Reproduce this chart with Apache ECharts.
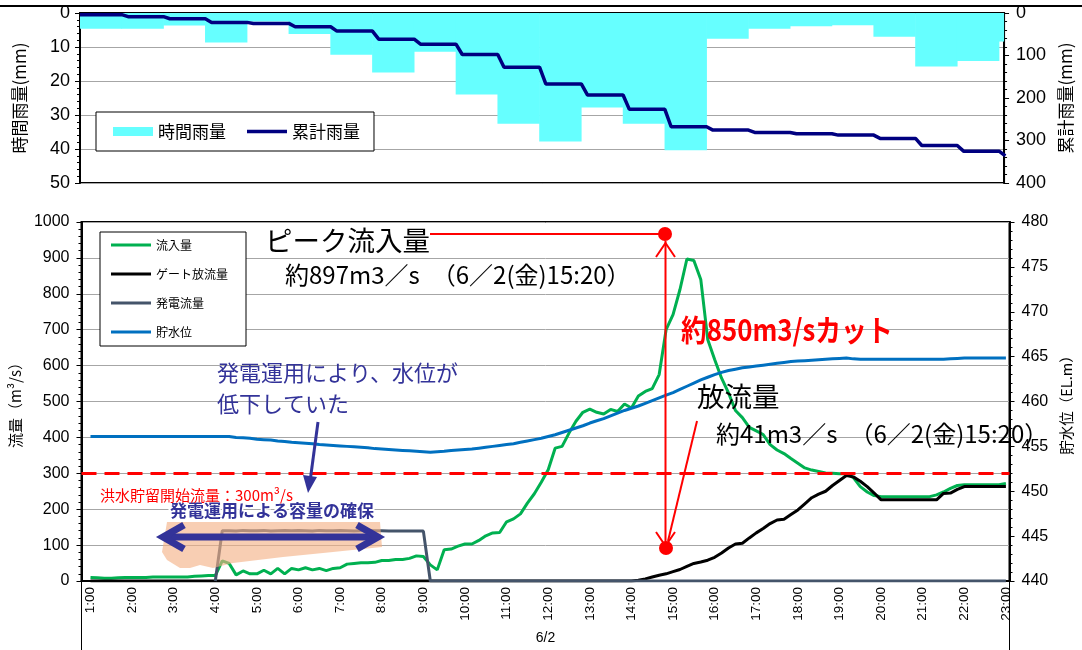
<!DOCTYPE html>
<html>
<head>
<meta charset="utf-8">
<script src="https://cdn.jsdelivr.net/npm/echarts@6/dist/echarts.min.js"></script>
<style>
  html, body { margin: 0; padding: 0; background: #fff; }
  #chart { width: 1082px; height: 650px; }
</style>
</head>
<body>
<div id="chart"></div>
<script>
// ---- Rainfall (upper panel): one value per hourly slot ----
const rainHourly = [4.6, 4.6, 3.7, 8.7, 2.5, 6.2, 12.3, 17.5, 11.4, 24.0, 32.6, 37.8,
                    27.8, 32.6, 40.4, 7.6, 4.6, 3.9, 3.6, 7.0, 15.7, 14.1, 8.4];
const rainCumulative = [4.0, 8.7, 13.5, 22.1, 24.5, 32.3, 42.6, 61.5, 73.3, 97.6, 127.6, 167,
                        193, 226.7, 267.7, 275.5, 281, 284, 287.3, 295, 311.7, 325, 336];

// ---- Reservoir operation (lower panel): 10-minute readings, 1:00 .. 23:00 on 6/2 ----
const inflow = [
  10, 9, 8, 8, 9, 10,            // 1:00
  10, 10, 10, 11, 11, 11,        // 2:00
  11, 11, 11, 13, 14, 15,        // 3:00
  15, 56, 49, 17, 28, 20,        // 4:00
  20, 30, 20, 35, 20, 35,        // 5:00
  31, 37, 31, 35, 29, 35,        // 6:00
  37, 47, 49, 51, 51, 52,        // 7:00
  57, 57, 60, 60, 63, 70,        // 8:00
  68, 45, 31, 87, 89, 97,        // 9:00
  103, 103, 113, 126, 134, 135,  // 10:00
  165, 173, 187, 217, 243, 275,  // 11:00
  310, 370, 375, 412, 445, 470,  // 12:00
  479, 470, 465, 478, 472, 493,  // 13:00
  482, 515, 528, 536, 575, 700,  // 14:00
  742, 812, 897, 893, 840, 673,  // 15:00
  617, 565, 524, 475, 455, 428,  // 16:00
  418, 408, 380, 365, 355, 341,  // 17:00
  328, 315, 309, 305, 301, 300,  // 18:00
  299, 299, 288, 263, 248, 238,  // 19:00
  235, 235, 235, 235, 235, 235,  // 20:00
  235, 235, 240, 248, 258, 266,  // 21:00
  268, 268, 268, 268, 268, 268,  // 22:00
  272                            // 23:00
];
const gateOutflow = [
  0, 0, 0, 0, 0, 0,              // 1:00
  0, 0, 0, 0, 0, 0,              // 2:00
  0, 0, 0, 0, 0, 0,              // 3:00
  0, 0, 0, 0, 0, 0,              // 4:00
  0, 0, 0, 0, 0, 0,              // 5:00
  0, 0, 0, 0, 0, 0,              // 6:00
  0, 0, 0, 0, 0, 0,              // 7:00
  0, 0, 0, 0, 0, 0,              // 8:00
  0, 0, 0, 0, 0, 0,              // 9:00
  0, 0, 0, 0, 0, 0,              // 10:00
  0, 0, 0, 0, 0, 0,              // 11:00
  0, 0, 0, 0, 0, 0,              // 12:00
  0, 0, 0, 0, 0, 0,              // 13:00
  0, 2, 6, 11, 16, 20,           // 14:00
  26, 32, 41, 49, 53, 58,        // 15:00
  66, 78, 92, 103, 105, 120,     // 16:00
  134, 146, 160, 170, 172, 185,  // 17:00
  198, 215, 232, 242, 250, 266,  // 18:00
  280, 294, 290, 278, 263, 245,  // 19:00
  226, 226, 226, 226, 226, 226,  // 20:00
  226, 226, 226, 244, 245, 255,  // 21:00
  263, 263, 263, 263, 263, 263,  // 22:00
  263                            // 23:00
];
const powerFlow = [
  null, null, null, null, null, null,  // 1:00
  null, null, null, null, null, null,  // 2:00
  null, null, null, null, null, null,  // 3:00
  0, 140, 140, 139, 141, 140,          // 4:00
  140, 141, 139, 140, 141, 140,        // 5:00
  141, 140, 139, 141, 140, 140,        // 6:00
  141, 140, 139, 140, 141, 140,        // 7:00
  140, 139, 139, 139, 139, 139,        // 8:00
  139, 0, 0, 0, 0, 0,                  // 9:00
  0, 0, 0, 0, 0, 0,                    // 10:00
  0, 0, 0, 0, 0, 0,                    // 11:00
  0, 0, 0, 0, 0, 0,                    // 12:00
  0, 0, 0, 0, 0, 0,                    // 13:00
  0, 0, 0, 0, 0, 0,                    // 14:00
  0, 0, 0, 0, 0, 0,                    // 15:00
  0, 0, 0, 0, 0, 0,                    // 16:00
  0, 0, 0, 0, 0, 0,                    // 17:00
  0, 0, 0, 0, 0, 0,                    // 18:00
  0, 0, 0, 0, 0, 0,                    // 19:00
  0, 0, 0, 0, 0, 0,                    // 20:00
  0, 0, 0, 0, 0, 0,                    // 21:00
  0, 0, 0, 0, 0, 0,                    // 22:00
  0                                    // 23:00
];
const waterLevel = [
  456.1, 456.1, 456.1, 456.1, 456.1, 456.1,        // 1:00
  456.1, 456.1, 456.1, 456.1, 456.1, 456.1,        // 2:00
  456.1, 456.1, 456.1, 456.1, 456.1, 456.1,        // 3:00
  456.1, 456.1, 456.1, 456.0, 455.95, 455.9,       // 4:00
  455.8, 455.75, 455.7, 455.6, 455.55, 455.45,     // 5:00
  455.4, 455.35, 455.3, 455.2, 455.15, 455.1,      // 6:00
  455.05, 455.0, 454.95, 454.9, 454.85, 454.75,    // 7:00
  454.7, 454.65, 454.6, 454.55, 454.5, 454.45,     // 8:00
  454.4, 454.35, 454.4, 454.45, 454.55, 454.6,     // 9:00
  454.65, 454.7, 454.8, 454.9, 455.0, 455.1,       // 10:00
  455.2, 455.3, 455.45, 455.6, 455.75, 455.9,      // 11:00
  456.1, 456.3, 456.55, 456.8, 457.05, 457.3,      // 12:00
  457.6, 457.85, 458.1, 458.4, 458.7, 459.0,       // 13:00
  459.25, 459.5, 459.8, 460.1, 460.4, 460.7,       // 14:00
  461.0, 461.35, 461.7, 462.05, 462.4, 462.7,      // 15:00
  463.0, 463.25, 463.45, 463.6, 463.75, 463.85,    // 16:00
  463.95, 464.05, 464.15, 464.25, 464.35, 464.45,  // 17:00
  464.5, 464.55, 464.6, 464.65, 464.7, 464.75,     // 18:00
  464.8, 464.85, 464.75, 464.7, 464.7, 464.7,      // 19:00
  464.7, 464.7, 464.7, 464.7, 464.7, 464.7,        // 20:00
  464.7, 464.7, 464.7, 464.7, 464.75, 464.8,       // 21:00
  464.85, 464.85, 464.85, 464.85, 464.85, 464.85,  // 22:00
  464.85                                           // 23:00
];

const hourTicks = [1, 2, 3, 4, 5, 6, 7, 8, 9, 10, 11, 12, 13, 14, 15, 16, 17, 18, 19, 20, 21, 22, 23];
const dateGroups = ['6/2'];
const floodStartFlow = 300;

// ---- styling ----
const FONT_NUM = "'Liberation Sans', 'Noto Sans CJK JP', sans-serif";
const FONT_JP = "'Noto Sans CJK JP', sans-serif";
const NAVY = '#333399';
const RED = '#FF0000';
const CYAN = '#66FFFF';

// legend line icons: a thick stroke centred in the item box (thin corner marks keep the box size)
function lineIcon(w, h, t) {
  const a = (h - t) / 2, b = (h + t) / 2;
  return 'path://M0,0L' + w + ',0L' + w + ',0.01L0,0.01Z' +
         'M0,' + a + 'L' + w + ',' + a + 'L' + w + ',' + b + 'L0,' + b + 'Z' +
         'M0,' + (h - 0.01) + 'L' + w + ',' + (h - 0.01) + 'L' + w + ',' + h + 'L0,' + h + 'Z';
}

// time (hours) of the i-th 10-minute reading
const hourOf = i => 1 + i / 6;
const toPairs = arr => arr.map((v, i) => [hourOf(i), v]);

// cumulative rainfall: flat within each slot, rising over the first 10 minutes of the slot
const RAMP = 0.15;
const cumLine = [[0, rainCumulative[0]]];
for (let k = 1; k < rainCumulative.length; k++) {
  cumLine.push([k, rainCumulative[k - 1]], [k + RAMP, rainCumulative[k]]);
}

const axisBlack = { show: true, lineStyle: { color: '#000', width: 2 } };
const tickBlack = { show: true, length: 5, lineStyle: { color: '#000', width: 1 } };
const minorBlack = { show: true, splitNumber: 5, length: 3, lineStyle: { color: '#000', width: 1 } };
const gridGrey = { show: true, lineStyle: { color: '#A6A6A6', width: 1 } };
const plainNum = v => String(v);

const option = {
  animation: false,
  backgroundColor: '#fff',
  grid: [
    { left: 80, right: 72, top: 13, height: 170, show: true, borderColor: '#000', borderWidth: 2, backgroundColor: 'transparent' },
    { left: 80, right: 72, top: 222, height: 359, show: true, borderColor: '#000', borderWidth: 2, backgroundColor: 'transparent' }
  ],
  legend: [
    {
      data: [{ name: '時間雨量', icon: 'rect' }, { name: '累計雨量', icon: lineIcon(40, 9, 3.5) }],
      left: 96, top: 112, orient: 'horizontal',
      itemWidth: 40, itemHeight: 9, itemGap: 21,
      padding: [11, 14, 11, 17],
      borderColor: '#000', borderWidth: 1, backgroundColor: '#fff',
      selectedMode: false,
      textStyle: { fontSize: 17, lineHeight: 17, fontFamily: FONT_JP, color: '#000' }
    },
    {
      data: ['流入量', 'ゲート放流量', '発電流量', '貯水位'].map(n => ({ name: n, icon: lineIcon(40, 14, 3) })),
      left: 100, top: 232, orient: 'vertical',
      itemWidth: 40, itemHeight: 14, itemGap: 15,
      padding: [6, 18, 7, 11],
      borderColor: '#000', borderWidth: 1, backgroundColor: '#fff',
      selectedMode: false,
      textStyle: { fontSize: 12, lineHeight: 14, fontFamily: FONT_JP, color: '#000' }
    }
  ],
  xAxis: [
    {
      gridIndex: 0, type: 'value', min: 0, max: 22.12,
      axisLine: axisBlack, axisTick: { show: false }, axisLabel: { show: false }, splitLine: { show: false }
    },
    {
      gridIndex: 1, type: 'value', min: 0.784, max: 23.086,
      axisLine: axisBlack, axisTick: { show: false }, splitLine: { show: false },
      axisLabel: {
        customValues: hourTicks, formatter: v => v + ':00',
        rotate: 90, margin: 6, fontSize: 13.5, color: '#000', fontFamily: FONT_NUM
      }
    },
    {
      gridIndex: 1, type: 'category', data: dateGroups, position: 'bottom', boundaryGap: true,
      axisLine: { show: false },
      axisTick: { show: true, length: 70, lineStyle: { color: '#000', width: 1 } },
      axisLabel: { margin: 50, fontSize: 14, color: '#000', fontFamily: FONT_NUM },
      splitLine: { show: false }
    }
  ],
  yAxis: [
    {
      gridIndex: 0, type: 'value', inverse: true, min: 0, max: 50, interval: 10,
      name: '時間雨量(mm)', nameLocation: 'middle', nameRotate: 90, nameGap: 52,
      nameTextStyle: { fontSize: 17, fontFamily: FONT_JP, color: '#000' },
      axisLine: axisBlack, axisTick: tickBlack, minorTick: minorBlack,
      axisLabel: { fontSize: 18, margin: 10, color: '#000', fontFamily: FONT_NUM, formatter: plainNum },
      splitLine: gridGrey
    },
    {
      gridIndex: 0, type: 'value', position: 'right', inverse: true, min: 0, max: 400, interval: 100,
      name: '累計雨量(mm)', nameLocation: 'middle', nameRotate: 90, nameGap: 50,
      nameTextStyle: { fontSize: 17, fontFamily: FONT_JP, color: '#000' },
      axisLine: axisBlack, axisTick: tickBlack, minorTick: minorBlack,
      axisLabel: { fontSize: 18, margin: 12, color: '#000', fontFamily: FONT_NUM, formatter: plainNum },
      splitLine: { show: false }
    },
    {
      gridIndex: 1, type: 'value', min: 0, max: 1000, interval: 100,
      name: '流量（m³/s）', nameLocation: 'middle', nameRotate: 90, nameGap: 52,
      nameTextStyle: { fontSize: 15, fontFamily: FONT_JP, color: '#000' },
      axisLine: axisBlack, axisTick: tickBlack, minorTick: minorBlack,
      axisLabel: { fontSize: 16, margin: 12, color: '#000', fontFamily: FONT_NUM, formatter: plainNum },
      splitLine: gridGrey
    },
    {
      gridIndex: 1, type: 'value', position: 'right', min: 440, max: 480, interval: 5,
      name: '貯水位（EL.m）', nameLocation: 'middle', nameRotate: 90, nameGap: 50,
      nameTextStyle: { fontSize: 14.5, fontFamily: FONT_JP, color: '#000' },
      axisLine: axisBlack, axisTick: tickBlack, minorTick: minorBlack,
      axisLabel: { fontSize: 16, margin: 12, color: '#000', fontFamily: FONT_NUM, formatter: plainNum },
      splitLine: { show: false }
    }
  ],
  series: [
    {
      // hourly rainfall columns, each spanning its whole slot, clipped to the plot area
      name: '時間雨量', type: 'custom', xAxisIndex: 0, yAxisIndex: 0,
      data: rainHourly.map((v, k) => [k, v]),
      itemStyle: { color: CYAN }, color: CYAN,
      encode: { x: 0, y: 1 },
      renderItem: (params, api) => {
        const k = api.value(0), v = api.value(1);
        const p0 = api.coord([k, 0]);
        const p1 = api.coord([k + 1, v]);
        const cs = params.coordSys;
        const rect = echarts.graphic.clipRectByRect(
          { x: p0[0] - 0.3, y: p0[1], width: p1[0] - p0[0] + 0.6, height: p1[1] - p0[1] },
          { x: cs.x, y: cs.y, width: cs.width, height: cs.height }
        );
        return rect && { type: 'rect', shape: rect, style: { fill: CYAN } };
      }
    },
    {
      name: '累計雨量', type: 'line', xAxisIndex: 0, yAxisIndex: 1,
      data: cumLine, symbol: 'none', color: '#000080',
      lineStyle: { color: '#000080', width: 3.5 }
    },
    {
      name: '流入量', type: 'line', xAxisIndex: 1, yAxisIndex: 2,
      data: toPairs(inflow), symbol: 'none', color: '#00B050',
      lineStyle: { color: '#00B050', width: 3 },
      markLine: {
        silent: true, symbol: ['none', 'none'], label: { show: false },
        lineStyle: { color: RED, width: 3, type: [15, 8] },
        data: [{ yAxis: floodStartFlow }]
      }
    },
    {
      name: 'ゲート放流量', type: 'line', xAxisIndex: 1, yAxisIndex: 2,
      data: toPairs(gateOutflow), symbol: 'none', color: '#000000',
      lineStyle: { color: '#000000', width: 3 }
    },
    {
      name: '発電流量', type: 'line', xAxisIndex: 1, yAxisIndex: 2,
      data: toPairs(powerFlow), symbol: 'none', color: '#44546A',
      lineStyle: { color: '#44546A', width: 3 }
    },
    {
      name: '貯水位', type: 'line', xAxisIndex: 1, yAxisIndex: 3,
      data: toPairs(waterLevel), symbol: 'none', color: '#0070C0',
      lineStyle: { color: '#0070C0', width: 3 }
    }
  ]
};

// ---- annotations ----
function txt(x, y, text, font, fill, extra) {
  return Object.assign({
    type: 'text', x: x, y: y, z: 20,
    style: {
      x: 0, y: 0, text: text, font: font, fill: fill,
      textVerticalAlign: 'middle', verticalAlign: 'middle'
    }
  }, extra || {});
}
function seg(x1, y1, x2, y2, color, width, z) {
  return { type: 'line', z: z || 15, shape: { x1, y1, x2, y2 }, style: { stroke: color, lineWidth: width } };
}
function chevron(points, color, width, z) {
  return { type: 'polyline', z: z || 15, shape: { points }, style: { stroke: color, lineWidth: width, fill: 'none', lineJoin: 'miter' } };
}

option.graphic = [
  // outer frame line along the top edge
  seg(0, 6, 1082, 6, '#000', 2, 1),

  // storage secured by power operation
  {
    type: 'polygon', z: 10,
    shape: { points: [[167, 522], [380, 522], [382, 547], [333, 552], [283, 557], [233, 563],
                      [213, 568], [200, 565], [190, 568], [180, 568], [167, 560], [162, 552]] },
    style: { fill: 'rgba(244,176,132,0.62)' }
  },
  seg(168, 537, 372, 537, NAVY, 7, 11),
  chevron([[184, 525], [163, 537], [184, 549]], NAVY, 7, 11),
  chevron([[357, 525], [378, 537], [357, 549]], NAVY, 7, 11),
  {
    type: 'text', x: 170, y: 511, z: 20,
    style: { x: 0, y: 0, text: '発電運用による容量の確保', font: "bold 17px 'Noto Sans CJK JP'",
             fill: NAVY, stroke: '#fff', lineWidth: 3,
             textVerticalAlign: 'middle', verticalAlign: 'middle' }
  },

  // flood storage threshold label
  txt(100, 495, '洪水貯留開始流量：' + floodStartFlow + 'm³/s', "15px 'Noto Sans CJK JP'", RED),

  // power operation note and pointer
  txt(217, 373, '発電運用により、水位が', "22px 'Noto Sans CJK JP'", NAVY),
  txt(217, 404, '低下していた', "22px 'Noto Sans CJK JP'", NAVY),
  seg(318, 422, 310.5, 478, NAVY, 3, 15),
  { type: 'polygon', z: 15, shape: { points: [[308, 493], [317, 477], [303, 475]] }, style: { fill: NAVY } },

  // peak inflow
  txt(265, 241, 'ピーク流入量', "27.5px 'Noto Sans CJK JP'", '#000'),
  txt(285, 275, '約897m3／s　（6／2(金)15:20）', "24px 'Noto Sans CJK JP'", '#000'),
  seg(430, 234, 665, 234, RED, 2),
  { type: 'circle', z: 16, shape: { cx: 665, cy: 234, r: 7 }, style: { fill: RED } },
  { type: 'circle', z: 16, shape: { cx: 666, cy: 548, r: 7 }, style: { fill: RED } },
  seg(665.5, 241, 665.5, 545, RED, 2),
  chevron([[656, 257], [665.5, 243], [675, 257]], RED, 2),
  chevron([[656, 532], [665.5, 546], [675, 532]], RED, 2),
  txt(681, 330, '約850m3/sカット', "bold 30px 'Noto Sans CJK JP'", RED, { scaleX: 0.86 }),

  // outflow at the same time
  txt(697, 397, '放流量', "27.5px 'Noto Sans CJK JP'", '#000'),
  txt(716, 434, '約41m3／s　（6／2(金)15:20）', "24px 'Noto Sans CJK JP'", '#000'),
  seg(697, 421, 668, 541, RED, 2)
];

const chart = echarts.init(document.getElementById('chart'), null, { renderer: 'canvas' });
chart.setOption(option);
</script>
</body>
</html>
